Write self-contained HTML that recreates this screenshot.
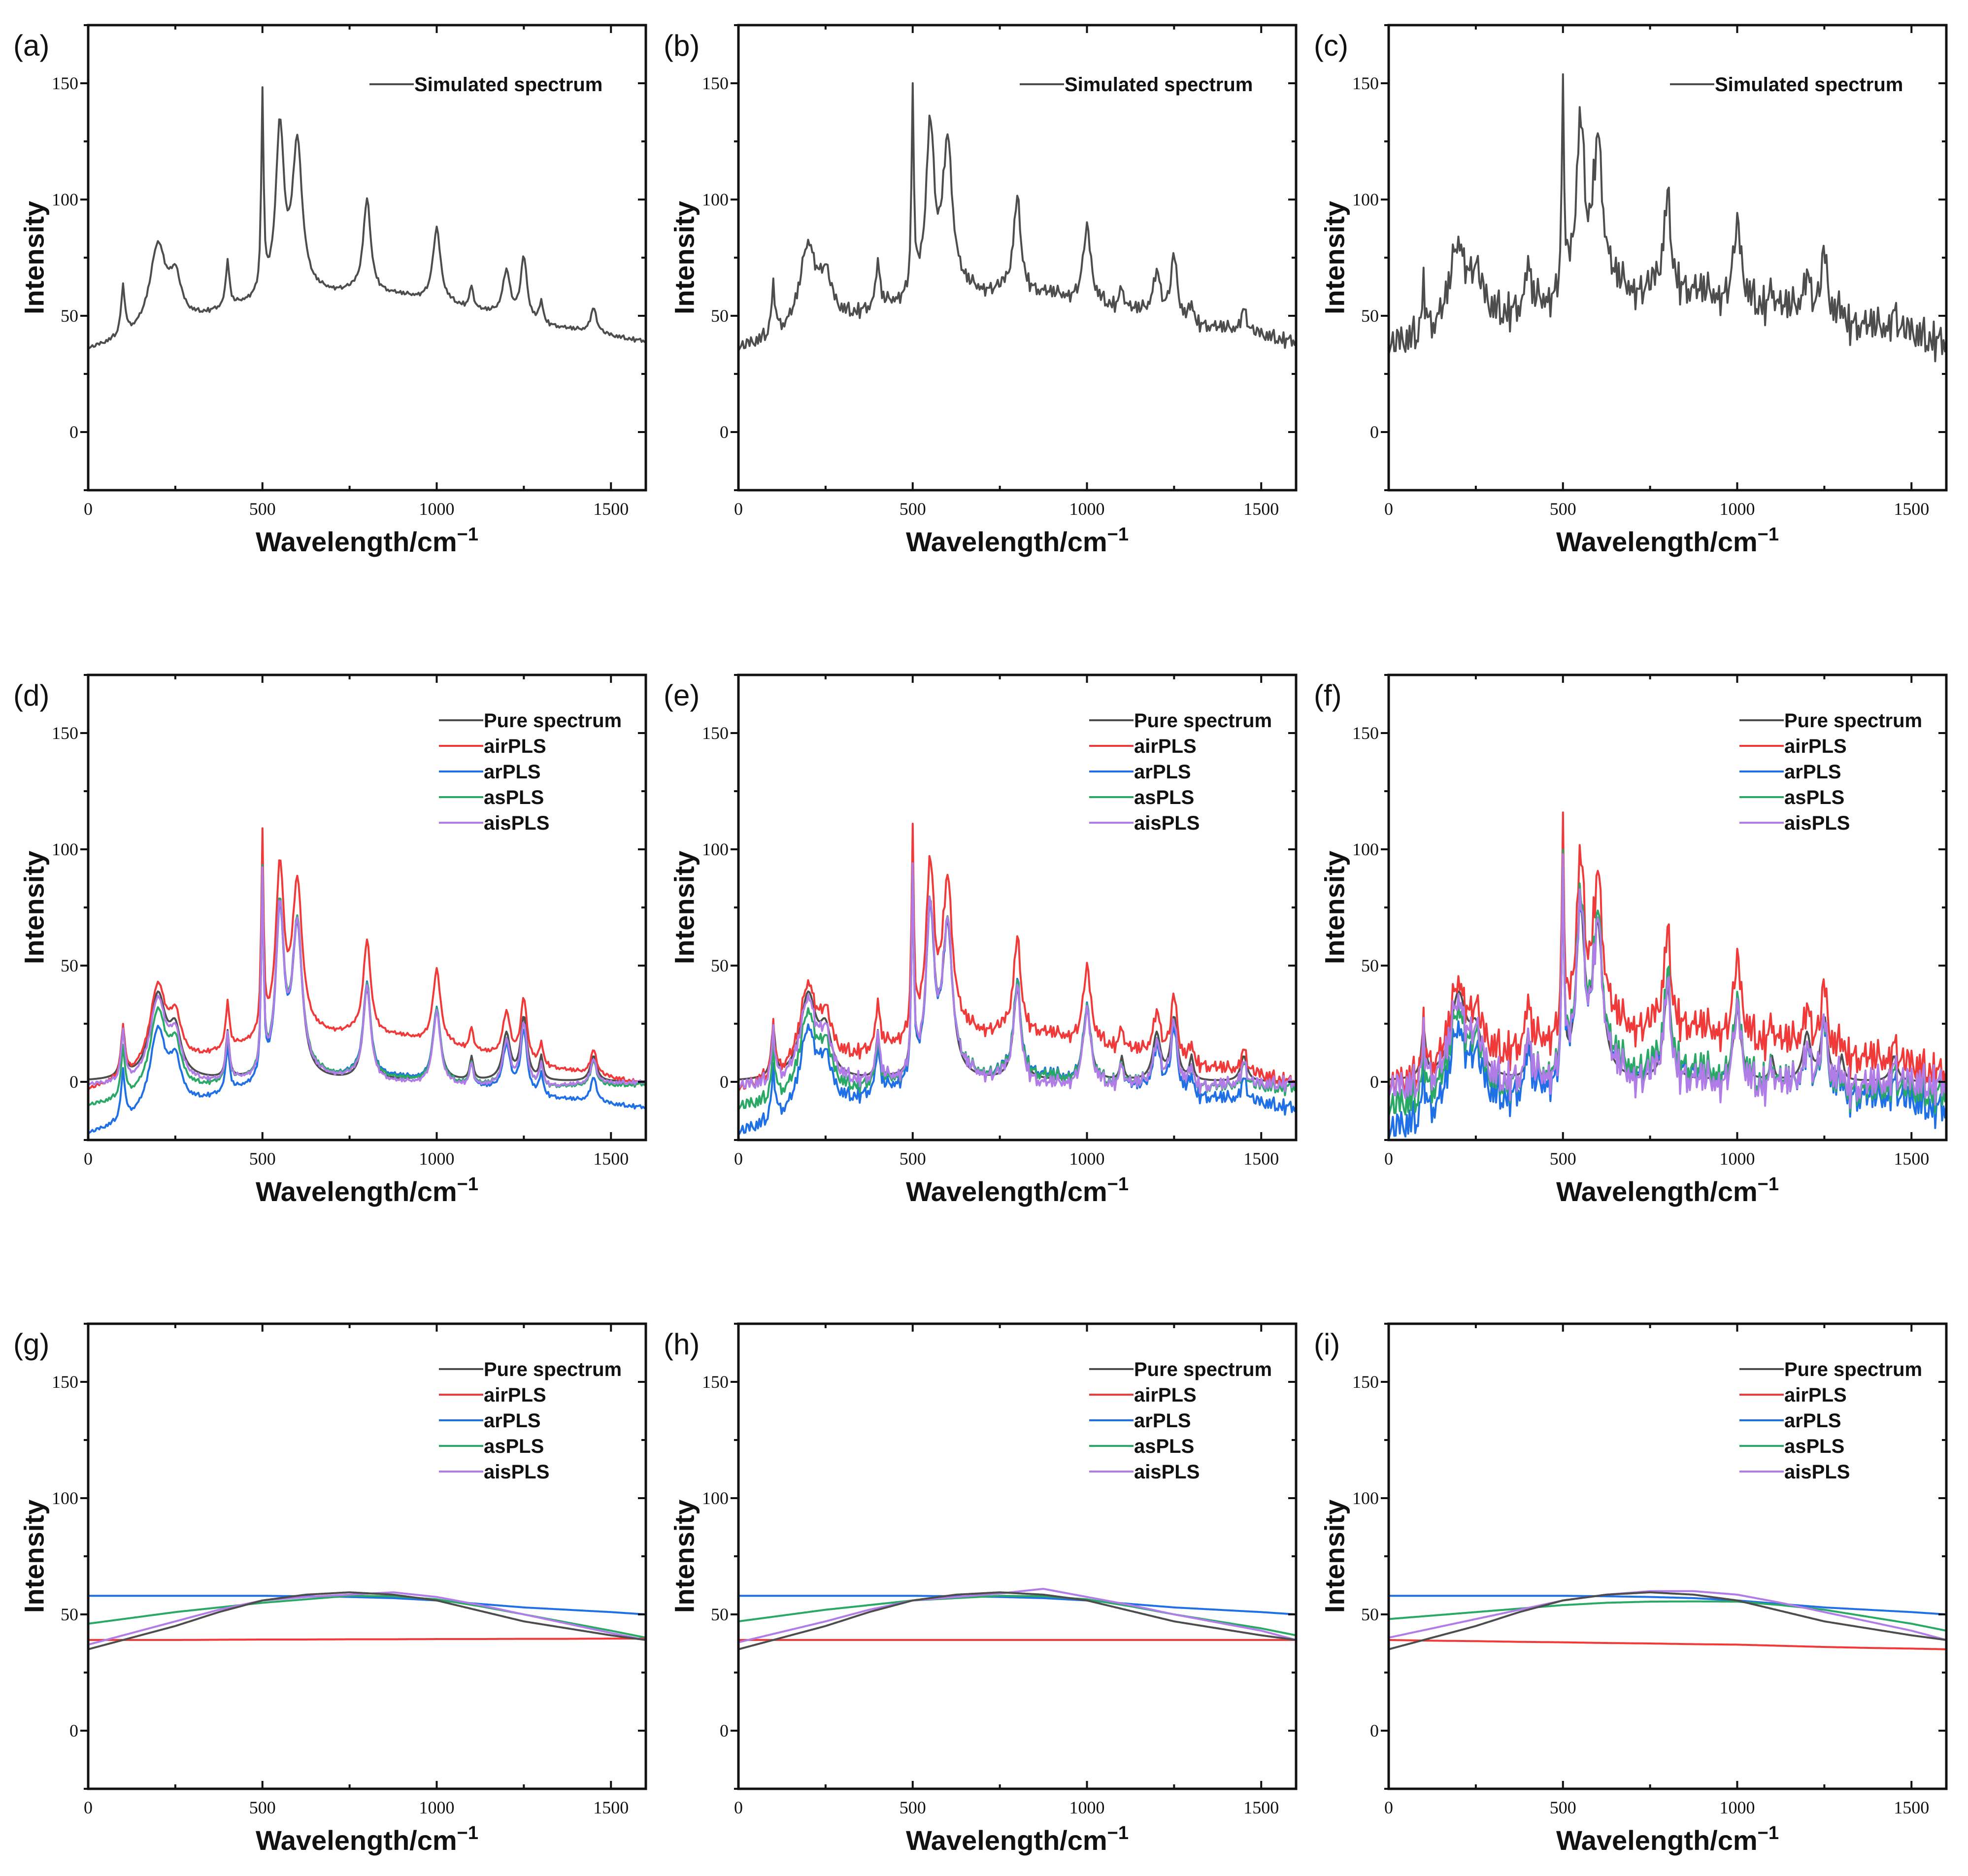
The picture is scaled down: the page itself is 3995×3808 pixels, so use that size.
<!DOCTYPE html>
<html><head><meta charset="utf-8">
<style>
html,body{margin:0;padding:0;background:#fff;}
svg{display:block;}
.tk{font-family:"Liberation Serif",serif;font-size:36px;fill:#111;}
.ax{font-family:"Liberation Sans",sans-serif;font-weight:bold;font-size:56px;fill:#111;}
.pl{font-family:"Liberation Sans",sans-serif;font-size:60px;fill:#111;}
.lg{font-family:"Liberation Sans",sans-serif;font-weight:bold;font-size:40px;fill:#111;}
</style></head>
<body>
<svg id="fig" width="3995" height="3808" viewBox="0 0 3995 3808" xmlns="http://www.w3.org/2000/svg"></svg>
<script>
// ---- data ----
const peakCenters=[100,200,250,400,500,550,600,800,1000,1100,1200,1250,1300,1450];
const peakHeights=[21,36,18,20,84,71,64,40,31,10,20,27,10,11];
const peakWidths=[7,28,20,6,4,14,17,13,13,6,13,11,6,11];
const knotX=[0,125,250,375,500,625,750,875,1000,1125,1250,1375,1500,1600];
const basePure=[35,40,45,51,56,58.5,59.5,58.5,56,51.5,47,44,41,39];
const baseG={air:[39,39,39,39.1,39.2,39.2,39.3,39.3,39.4,39.4,39.5,39.5,39.6,39.6],ar:[58,58,58,58,58,57.8,57.5,57,56,54.5,53,52,51,50],as:[46,48.5,51,53,55,56.5,58,57.8,56.5,53.5,50,46.5,43,40],ais:[37,42,47,52,56,57.5,58.5,59.5,57.5,54,50,46,42,39]};
const baseH={air:[39,39,39,39,39,39,39,39,39,39,39,39,39,39],ar:[58,58,58,58,58,57.8,57.5,57,56,54.5,53,52,51,50],as:[47,49.5,52,54,56,57,58,57.8,56.5,53.5,50,47,44,41],ais:[38,42.5,47,52,56,57.5,59,61,57.5,54,50,46.5,43,39]};
const baseI={air:[39,38.7,38.5,38.2,38,37.7,37.5,37.2,37,36.5,36,35.6,35.3,35],ar:[58,58,58,58,58,57.8,57.5,57,56,54.5,53,52,51,50],as:[48,49.5,51,52.5,54,55,55.5,55.6,55.5,54,52,49,46,43],ais:[40,44,48,52,56,58.5,60,60,58.5,55,51,47,43,39]};
const noiseTable=[0.3,-0.8,0.5,1,-0.4,-1,0.7,0.1,-0.6,0.9,-0.2,0.4,-0.9,0.6,-0.3,0.8,-0.7,0.2,1,-0.5,0.1,-0.9,0.5,0.3,-0.1,0.7,-1,0.4,-0.6,0.9,0.2,-0.3,0.6,-0.8,0.1,1,-0.4,0.5,-0.7,0.3,-0.2,0.8,-0.9,0.6,0,-0.5,0.9,-0.1,0.4,-1,0.7,-0.3,0.2,-0.6,0.8,-0.8,0.5,0.1,-0.4,0.9,-0.7];
const noiseLevels=[1.0,3.5,9];
const xTicks=[0,500,1000,1500];
const yTicks=[0,50,100,150];
const panelLetters=[["(a)","(b)","(c)"],["(d)","(e)","(f)"],["(g)","(h)","(i)"]];
const seriesNames=["Pure spectrum","airPLS","arPLS","asPLS","aisPLS"];
const seriesKeys=["pure","air","ar","as","ais"];
const colors={pure:"#4d4d4d",air:"#f03a3a",ar:"#1f6fe6",as:"#2aa866",ais:"#b07de8"};
// ---- layout ----
const X0s=[179,1499,2819], Y0s=[51,1370,2687], W=1132, H=944;
const NS="http://www.w3.org/2000/svg";
const svg=document.getElementById('fig');
function el(t,a,p){const e=document.createElementNS(NS,t);for(const k in a)e.setAttribute(k,a[k]);(p||svg).appendChild(e);return e;}
function interp(kx,ky,x){for(let i=0;i<kx.length-1;i++){if(x<=kx[i+1]){const t=(x-kx[i])/(kx[i+1]-kx[i]);return ky[i]+t*(ky[i+1]-ky[i]);}}return ky[ky.length-1];}
function peaks(x){let s=0;for(let i=0;i<peakCenters.length;i++){const d=(x-peakCenters[i])/peakWidths[i];s+=peakHeights[i]/(1+d*d);}return s;}
function noise(i){const n=noiseTable.length;return noiseTable[i%n]*0.7+noiseTable[(i*13+5)%n]*0.5;}
const xsS=[];for(let x=0;x<=1600;x+=4)xsS.push(x);
const bases=[baseG,baseH,baseI];
let clipN=0;
function drawPanel(r,c){
  const X0=X0s[c],Y0=Y0s[r];
  const sx=v=>X0+v/1600*W, sy=v=>Y0+(175-v)/200*H;
  const g=el('g',{});
  
  
  const cid='clip'+(clipN++);
  const cp=el('clipPath',{id:cid},g);el('rect',{x:X0,y:Y0,width:W,height:H},cp);
  const lines=el('g',{'clip-path':'url(#'+cid+')'},g);
  const nl=noiseLevels[c];
  function curve(key,fn){
    let d='';xsS.forEach((x,i)=>{d+=(i?'L':'M')+sx(x).toFixed(1)+','+sy(fn(x,i)).toFixed(1);});
    const p=el('path',{d:d,fill:'none',stroke:colors[key],'stroke-width':4,'stroke-linejoin':'round'},lines);
    
    
  }
  if(r===0){
    curve('pure',(x,i)=>peaks(x)+interp(knotX,basePure,x)+nl*noise(i));
  } else if(r===1){
    const B=bases[c];
    curve('pure',(x)=>peaks(x));
    ['air','ar','as','ais'].forEach(k=>{
      curve(k,(x,i)=>peaks(x)+interp(knotX,basePure,x)-interp(knotX,B[k],x)+nl*noise(i));
    });
  } else {
    const B=bases[c];
    ['ar','as','air','ais'].forEach(k=>curve(k,x=>interp(knotX,B[k],x)));
    curve('pure',x=>interp(knotX,basePure,x));
  }
  const fr=el('rect',{x:X0,y:Y0,width:W,height:H,fill:'none',stroke:'#111','stroke-width':5},g);
  
  
  for(let v=0;v<=1600;v+=250){const x=sx(v),maj=v%500===0,L=maj?16:9;
    el('line',{x1:x,y1:Y0+H,x2:x,y2:Y0+H-L,stroke:'#111','stroke-width':4},g);
    el('line',{x1:x,y1:Y0,x2:x,y2:Y0+L,stroke:'#111','stroke-width':4},g);}
  for(let v=-25;v<=175;v+=25){const y=sy(v),maj=v%50===0,L=maj?16:9;
    el('line',{x1:X0,y1:y,x2:X0-L,y2:y,stroke:'#111','stroke-width':4},g);
    el('line',{x1:X0+W,y1:y,x2:X0+W-L,y2:y,stroke:'#111','stroke-width':4},g);}
  xTicks.forEach(v=>{const t=el('text',{x:sx(v),y:Y0+H+50,'text-anchor':'middle',class:'tk'},g);t.textContent=v;
    });
  yTicks.forEach(v=>{const t=el('text',{x:X0-20,y:sy(v)+12,'text-anchor':'end',class:'tk'},g);t.textContent=v;
    });
  const xt=el('text',{x:X0+W/2,y:Y0+H+124,'text-anchor':'middle',class:'ax'},g);
  xt.innerHTML='Wavelength/cm<tspan dy="-22" font-size="38">−1</tspan>';
  
  const yx=X0-110,yy=Y0+H/2;
  const yt=el('text',{x:yx,y:yy,'text-anchor':'middle',class:'ax','dominant-baseline':'central',transform:'rotate(-90 '+yx+' '+yy+')'},g);
  yt.textContent='Intensity';
  
  const pl=el('text',{x:X0-152,y:Y0+62,class:'pl'},g);pl.textContent=panelLetters[r][c];
  
  if(r===0){
    const lg=el('g',{},g);
    el('line',{x1:X0+571,y1:Y0+120,x2:X0+661,y2:Y0+120,stroke:colors.pure,'stroke-width':4},lg);
    const t=el('text',{x:X0+662,y:Y0+134,class:'lg'},lg);t.textContent='Simulated spectrum';
  } else {
    seriesKeys.forEach((k,i)=>{const y=Y0+92+i*52;
      const lg=el('g',{},g);
      el('line',{x1:X0+712,y1:y,x2:X0+802,y2:y,stroke:colors[k],'stroke-width':4},lg);
      const t=el('text',{x:X0+803,y:y+14,class:'lg'},lg);t.textContent=seriesNames[i];});
  }
}
for(let r=0;r<3;r++)for(let c=0;c<3;c++)drawPanel(r,c);
</script>
</body></html>
